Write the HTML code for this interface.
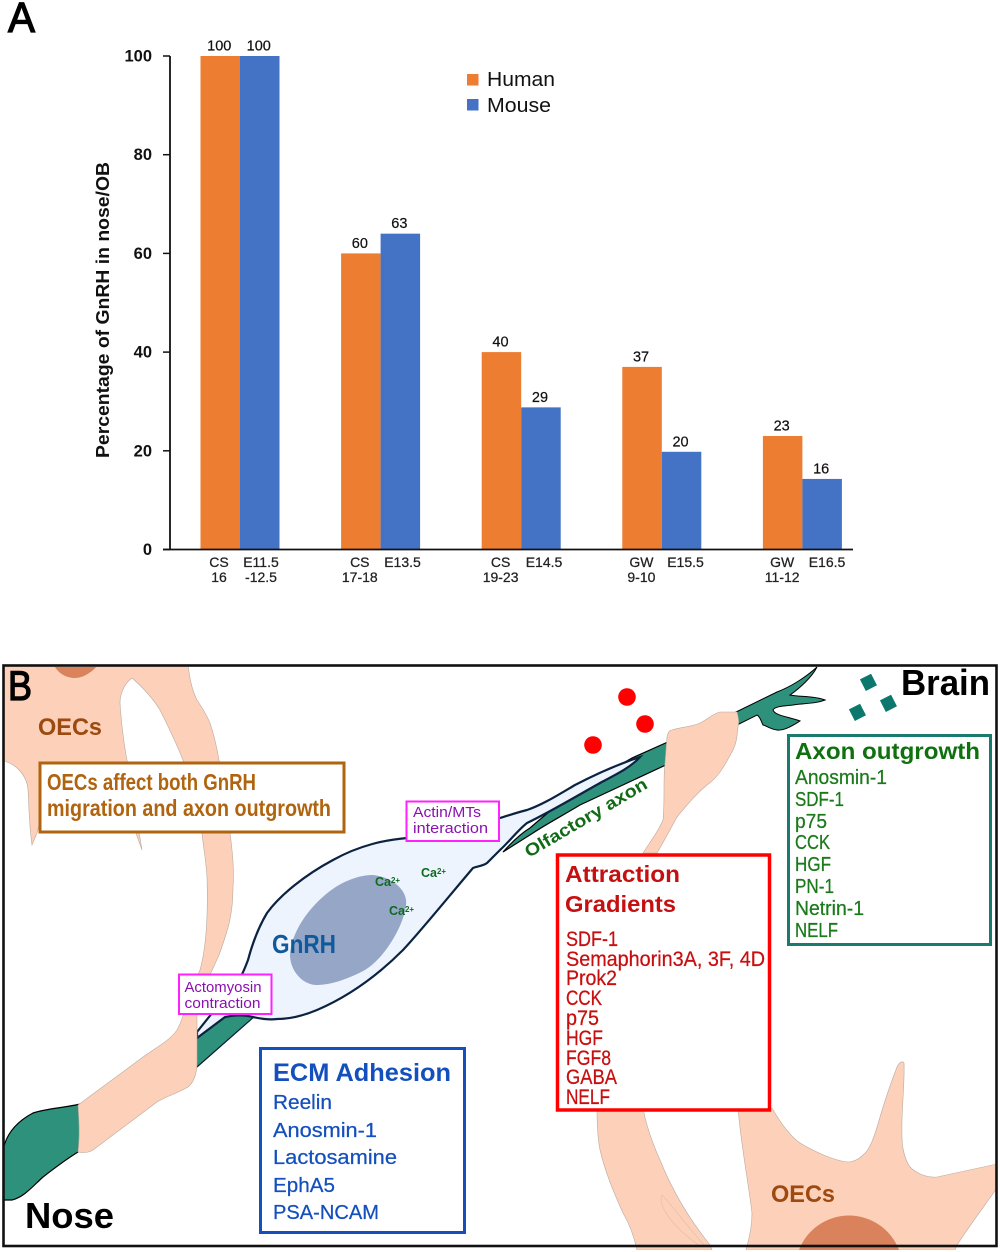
<!DOCTYPE html>
<html lang="en">
<head>
<meta charset="utf-8">
<title>GnRH migration figure</title>
<style>
html,body{margin:0;padding:0;background:#fff;width:1000px;height:1252px;overflow:hidden;}
svg{display:block;font-family:"Liberation Sans",sans-serif;overflow:hidden;}
.ttl{font-weight:bold;}
.semi{stroke-width:.25px;}
</style>
</head>
<body>
<svg id="figure" xmlns="http://www.w3.org/2000/svg" width="1000" height="1252" viewBox="0 0 1000 1252">
<rect x="0" y="0" width="1000" height="1252" fill="#fff"/>
<text x="8" y="32" font-size="43" textLength="27" lengthAdjust="spacingAndGlyphs" fill="#000" stroke="#000" stroke-width="1.3">A</text>
<g id="chart"></g>

<g>
<defs><clipPath id="frameClip"><rect x="3" y="665" width="994" height="585"/></clipPath></defs>
<g clip-path="url(#frameClip)">
<path d="M3,1150 C6,1135 16,1122 33,1113 C48,1108 65,1108 85,1103 L85,1148 L78,1152 C65,1160 52,1170 43,1177 C32,1187 24,1197 12,1200 L3,1200 Z" fill="#2e917c" stroke="#000" stroke-width="1.2"/>
<path d="M190,1040 L217,1018 C228,1015 243,1015 255,1016 L197,1067 L185,1075 Z" fill="#2e917c" stroke="#071a2e" stroke-width="1.2"/>
<path d="M503,852 C512,842 520,834 530,828 C548,812 575,790 632,758 L670,741 L670,763 L580,805 C560,817 545,825 533,833 Z" fill="#2e917c" stroke="#000" stroke-width="1.2"/>
<path d="M730,715 L777,692 C790,687 805,678 817,667 C812,677 800,688 790,695 C800,697 815,696 825,700 C815,704 805,703 793,705 C785,706 775,706 773,710 C775,716 790,717 800,721 C795,724 785,731 777,730 C770,729 765,725 763,725 C760,718 759,716 757,715 L733,727 Z" fill="#2e917c" stroke="#000" stroke-width="1"/>
<path d="M407,838 C385,840 360,845 333,860 C305,875 280,895 267,913 C258,928 252,945 248,960 C245,968 243,973 240,978 L197,1032 L197,1038 L225,1017 C235,1015 245,1015 253,1017 C262,1019 270,1020 277,1019 C290,1019 305,1015 317,1010 C345,998 375,978 403,950 C420,932 450,895 473,868 C478,866 483,866 487,863 C492,858 497,853 500,850 C508,843 518,830 527,823 C550,812 575,797 600,783 C615,775 630,768 640,757 C625,762 600,772 575,785 C558,795 542,805 527,810 C515,813 507,816 500,818 C480,825 455,835 407,838 Z" fill="#edf4fe" stroke="#0b2340" stroke-width="2.2"/>
<path d="M373,875 C392,877 408,890 406,905 C404,925 385,958 365,970 C350,978 332,985 317,985 C302,985 290,970 290,955 C291,935 305,912 325,895 C340,882 358,875 373,875 Z" fill="#95a6c7"/>
<path d="M3,665 L188,665 C190,680 192,690 197,700 C205,712 208,718 210,723 C214,735 217,748 219,760 C224,790 229,815 230,833 C233,855 234,875 233,887 C233,915 228,930 219,955 C210,975 200,995 197,1013 L197,1063 C197,1075 193,1083 188,1087 C178,1093 165,1097 157,1102 L93,1150 C88,1153 82,1153 78,1152 C80,1135 79,1120 78,1105 L143,1057 C160,1045 170,1040 177,1030 C182,1022 188,1000 200,970 C207,945 208,910 207,877 C206,860 203,845 202,833 L183,760 C175,740 165,720 160,710 C152,697 140,685 132,678 C125,683 120,693 120,703 C121,720 124,745 127,760 L142,850 L133,825 L39,825 L37,833 L32,845 C29,825 29,805 28,790 C27,775 15,763 3,761 Z" fill="#fdd0b9" stroke="#b9aaa0" stroke-width=".6"/>
<path d="M55,667 C60,675 68,678 75,678 C83,678 92,672 96,667 Z" fill="#d9825c"/>
<path d="M665,763 L667,737 C668,732 670,730 672,730 C680,727 692,727 700,723 C708,719 714,713 720,712 L737,712 C739,720 739,722 738,727 C737,735 737,742 733,750 C725,765 718,778 707,785 C695,795 687,805 677,817 C670,830 663,843 657,853 L643,853 C650,842 658,832 663,820 C665,800 663,780 665,763 Z" fill="#fdd0b9" stroke="#b9aaa0" stroke-width=".6"/>
<path d="M597,1108 C597,1125 598,1140 600,1150 C606,1175 615,1195 623,1213 C630,1225 634,1236 637,1250 L712,1250 L710,1245 C690,1220 672,1190 660,1160 C652,1142 646,1125 643,1108 Z" fill="#fdd0b9" stroke="#b9aaa0" stroke-width=".6"/>
<path d="M662,1195 C658,1205 670,1225 700,1246 M662,1195 C672,1205 690,1230 705,1246" fill="none" stroke="#e8c2ad" stroke-width=".8"/>
<path d="M738,1108 C741,1145 748,1180 752,1213 C752,1225 750,1235 746,1250 L955,1250 L957,1245 C970,1225 985,1205 997,1188 L997,1164 L937,1177 C925,1178 915,1172 910,1167 C905,1160 902,1148 902,1137 C901,1110 905,1085 904,1063 C902,1060 899,1063 897,1067 C890,1085 885,1100 880,1117 C875,1135 870,1150 863,1155 C858,1160 852,1162 848,1162 C835,1161 815,1152 800,1143 C790,1136 780,1122 772,1108 Z" fill="#fdd0b9" stroke="#b9aaa0" stroke-width=".6"/>
<path d="M799,1250 A53.5,53.5 0 0 1 899,1250 Z" fill="#d9825c"/>
</g>

<circle cx="627" cy="697" r="8.8" fill="#ff0000"/>
<circle cx="645" cy="724" r="8.8" fill="#ff0000"/>
<circle cx="593" cy="745" r="8.8" fill="#ff0000"/>
<rect x="862" y="676" width="12.5" height="13" fill="#0c786d" transform="rotate(-27 868 682)"/>
<rect x="882" y="697" width="12.5" height="13" fill="#0c786d" transform="rotate(-27 888 703)"/>
<rect x="851" y="706" width="12.5" height="13" fill="#0c786d" transform="rotate(-27 857 712)"/>

<rect x="3.5" y="665.5" width="993" height="580.5" fill="none" stroke="#111" stroke-width="2.6"/>

<text x="8" y="700" font-size="42" textLength="24" lengthAdjust="spacingAndGlyphs" fill="#000" stroke="#000" stroke-width="1.3">B</text>
<text class="ttl" x="901" y="695" font-size="36" textLength="89" lengthAdjust="spacingAndGlyphs" fill="#000">Brain</text>
<text class="ttl" x="25" y="1228" font-size="36" textLength="89" lengthAdjust="spacingAndGlyphs" fill="#000">Nose</text>
<text class="ttl" x="38" y="735" font-size="24" textLength="64" lengthAdjust="spacingAndGlyphs" fill="#9c4a10">OECs</text>
<text class="ttl" x="771" y="1202" font-size="24" textLength="64" lengthAdjust="spacingAndGlyphs" fill="#9c4a10">OECs</text>

<g>
<rect x="40" y="763" width="304" height="69" fill="#fff" stroke="#b0640f" stroke-width="3"/>
<text class="ttl" x="47" y="790" font-size="23" textLength="209" lengthAdjust="spacingAndGlyphs" fill="#b0640f">OECs affect both GnRH</text>
<text class="ttl" x="47" y="816" font-size="23" textLength="284" lengthAdjust="spacingAndGlyphs" fill="#b0640f">migration and axon outgrowth</text>
</g>

<text class="ttl" x="272" y="953" font-size="26" textLength="64" lengthAdjust="spacingAndGlyphs" fill="#105a9c">GnRH</text>
<text class="ttl" x="375" y="886" font-size="12.5" fill="#0f6a1f">Ca<tspan font-size="8" dy="-3">2+</tspan></text>
<text class="ttl" x="421" y="877" font-size="12.5" fill="#0f6a1f">Ca<tspan font-size="8" dy="-3">2+</tspan></text>
<text class="ttl" x="389" y="915" font-size="12.5" fill="#0f6a1f">Ca<tspan font-size="8" dy="-3">2+</tspan></text>
<text class="ttl" x="529" y="858" font-size="17.5" textLength="139" lengthAdjust="spacingAndGlyphs" fill="#116a16" transform="rotate(-30.5 529 858)">Olfactory axon</text>

<g>
<rect x="406.5" y="801.5" width="92.5" height="39.5" fill="#fff" stroke="#ff22ff" stroke-width="2"/>
<text x="413" y="817" font-size="15" textLength="68" lengthAdjust="spacingAndGlyphs" fill="#8a10b0">Actin/MTs</text>
<text x="413" y="833" font-size="15" textLength="75" lengthAdjust="spacingAndGlyphs" fill="#8a10b0">interaction</text>
</g>
<g>
<rect x="179" y="974.5" width="92.5" height="39.5" fill="#fff" stroke="#ff22ff" stroke-width="2"/>
<text x="184.5" y="992" font-size="15" textLength="77" lengthAdjust="spacingAndGlyphs" fill="#8a10b0">Actomyosin</text>
<text x="184.5" y="1008" font-size="15" textLength="76" lengthAdjust="spacingAndGlyphs" fill="#8a10b0">contraction</text>
</g>

<g>
<rect x="788.5" y="735.5" width="202" height="209" fill="#fff" stroke="#1a7a70" stroke-width="3"/>
<text class="ttl" x="795" y="759" font-size="23" textLength="185" lengthAdjust="spacingAndGlyphs" fill="#107010">Axon outgrowth</text>
<g font-size="20" fill="#1b7a1b" stroke="#1b7a1b" class="semi">
<text x="795" y="784" textLength="92" lengthAdjust="spacingAndGlyphs">Anosmin-1</text>
<text x="795" y="806" textLength="49" lengthAdjust="spacingAndGlyphs">SDF-1</text>
<text x="795" y="828" textLength="32" lengthAdjust="spacingAndGlyphs">p75</text>
<text x="795" y="849" textLength="35" lengthAdjust="spacingAndGlyphs">CCK</text>
<text x="795" y="871" textLength="36" lengthAdjust="spacingAndGlyphs">HGF</text>
<text x="795" y="893" textLength="39" lengthAdjust="spacingAndGlyphs">PN-1</text>
<text x="795" y="915" textLength="69" lengthAdjust="spacingAndGlyphs">Netrin-1</text>
<text x="795" y="937" textLength="43" lengthAdjust="spacingAndGlyphs">NELF</text>
</g>
</g>

<g>
<rect x="557.5" y="855" width="212" height="255" fill="#fff" stroke="#ff0000" stroke-width="3.5"/>
<text class="ttl" x="565" y="882" font-size="23" textLength="115" lengthAdjust="spacingAndGlyphs" fill="#c41010">Attraction</text>
<text class="ttl" x="565" y="912" font-size="23" textLength="111" lengthAdjust="spacingAndGlyphs" fill="#c41010">Gradients</text>
<g font-size="21" fill="#c80f0f" stroke="#c80f0f" class="semi">
<text x="566" y="946" textLength="52" lengthAdjust="spacingAndGlyphs">SDF-1</text>
<text x="566" y="966" textLength="199" lengthAdjust="spacingAndGlyphs">Semaphorin3A, 3F, 4D</text>
<text x="566" y="985" textLength="51" lengthAdjust="spacingAndGlyphs">Prok2</text>
<text x="566" y="1005" textLength="36" lengthAdjust="spacingAndGlyphs">CCK</text>
<text x="566" y="1025" textLength="33" lengthAdjust="spacingAndGlyphs">p75</text>
<text x="566" y="1045" textLength="37" lengthAdjust="spacingAndGlyphs">HGF</text>
<text x="566" y="1065" textLength="45" lengthAdjust="spacingAndGlyphs">FGF8</text>
<text x="566" y="1084" textLength="51" lengthAdjust="spacingAndGlyphs">GABA</text>
<text x="566" y="1104" textLength="44" lengthAdjust="spacingAndGlyphs">NELF</text>
</g>
</g>

<g>
<rect x="260.5" y="1048.5" width="204" height="184" fill="#fff" stroke="#1450bd" stroke-width="3"/>
<text class="ttl" x="273" y="1081" font-size="25" textLength="178" lengthAdjust="spacingAndGlyphs" fill="#1450bd">ECM Adhesion</text>
<g font-size="20.5" fill="#1450bd" stroke="#1450bd" class="semi">
<text x="273" y="1109" textLength="59" lengthAdjust="spacingAndGlyphs">Reelin</text>
<text x="273" y="1137" textLength="104" lengthAdjust="spacingAndGlyphs">Anosmin-1</text>
<text x="273" y="1164" textLength="124" lengthAdjust="spacingAndGlyphs">Lactosamine</text>
<text x="273" y="1192" textLength="62" lengthAdjust="spacingAndGlyphs">EphA5</text>
<text x="273" y="1219" textLength="106" lengthAdjust="spacingAndGlyphs">PSA-NCAM</text>
</g>
</g>
</g>
</svg>
<script>
const humanValues = [100, 60, 40, 37, 23];
const mouseValues = [100, 64, 28.8, 19.8, 14.3];
const humanPrinted = ["100", "60", "40", "37", "23"];
const mousePrinted = ["100", "63", "29", "20", "16"];
const humanCatTop = ["CS", "CS", "CS", "GW", "GW"];
const humanCatBottom = ["16", "17-18", "19-23", "9-10", "11-12"];
const mouseCatTop = ["E11.5", "E13.5", "E14.5", "E15.5", "E16.5"];
const mouseCatBottom = ["-12.5", "", "", "", ""];
const yTicks = [0, 20, 40, 60, 80, 100];

const NS = "http://www.w3.org/2000/svg";
const chart = document.getElementById("chart");
const yScale = v => 549.5 - v * 4.935;
const groupX = i => 200.5 + i * 140.6;
const BAR = 39.5;
function make(tag, attrs, text) {
  const el = document.createElementNS(NS, tag);
  for (const k in attrs) el.setAttribute(k, attrs[k]);
  if (text !== undefined) el.textContent = text;
  chart.appendChild(el);
  return el;
}
humanValues.forEach((v, i) => {
  const bar = make("rect", {x: groupX(i), y: yScale(v), width: BAR, height: yScale(0) - yScale(v), fill: "#ed7d31"});
  
  
  const lab = make("text", {x: groupX(i) + BAR / 2 - 1, y: yScale(v) - 5.5, "font-size": 14.5, "text-anchor": "middle", fill: "#111", stroke: "#111", "stroke-width": 0.2}, humanPrinted[i]);
  
  
});
mouseValues.forEach((v, i) => {
  const bar = make("rect", {x: groupX(i) + BAR, y: yScale(v), width: BAR, height: yScale(0) - yScale(v), fill: "#4472c4"});
  
  
  const lab = make("text", {x: groupX(i) + BAR * 1.5 - 1, y: yScale(v) - 5.5, "font-size": 14.5, "text-anchor": "middle", fill: "#111", stroke: "#111", "stroke-width": 0.2}, mousePrinted[i]);
  
  
});
const yAxis = make("line", {x1: 170, x2: 170, y1: yScale(100), y2: yScale(0), stroke: "#111", "stroke-width": 1.8});


const xAxis = make("line", {x1: 163, x2: 853, y1: yScale(0), y2: yScale(0), stroke: "#111", "stroke-width": 1.8});


yTicks.forEach(t => {
  const tick = make("line", {x1: 163, x2: 170, y1: yScale(t), y2: yScale(t), stroke: "#111", "stroke-width": 1.5});
  
  
  const lab = make("text", {x: 152, y: yScale(t) + 5.5, "font-size": 16.5, "font-weight": "bold", "text-anchor": "end", fill: "#111"}, String(t));
  
  
});
function catLabel(x, y, s, name) {
  if (!s) return;
  const el = make("text", {x: x, y: y, "font-size": 14, "text-anchor": "middle", fill: "#222", stroke: "#222", "stroke-width": 0.25}, s);
  
  
}
humanCatTop.forEach((s, i) => {
  catLabel(219 + i * 140.8, 567, s, 'human-stage-label');
  catLabel(219 + i * 140.8, 582, humanCatBottom[i], 'human-stage-range-label');
});
mouseCatTop.forEach((s, i) => {
  catLabel(261 + i * 141.5, 567, s, 'mouse-stage-label');
  catLabel(261 + i * 141.5, 582, mouseCatBottom[i], 'mouse-stage-range-label');
});
const yTitle = make("text", {x: 0, y: 0, "font-size": 18.5, "font-weight": "bold", "text-anchor": "middle", fill: "#111", transform: "translate(109 310) rotate(-90)", textLength: 296, lengthAdjust: "spacingAndGlyphs"}, "Percentage of GnRH in nose/OB");


const swatchH = make("rect", {x: 467, y: 74, width: 11.5, height: 11.5, fill: "#ed7d31"});


const swatchM = make("rect", {x: 467, y: 99, width: 11.5, height: 11.5, fill: "#4472c4"});


const legH = make("text", {x: 487, y: 86, "font-size": 20, fill: "#111", textLength: 68, lengthAdjust: "spacingAndGlyphs"}, "Human");


const legM = make("text", {x: 487, y: 112, "font-size": 20, fill: "#111", textLength: 64, lengthAdjust: "spacingAndGlyphs"}, "Mouse");


</script>
</body>
</html>
